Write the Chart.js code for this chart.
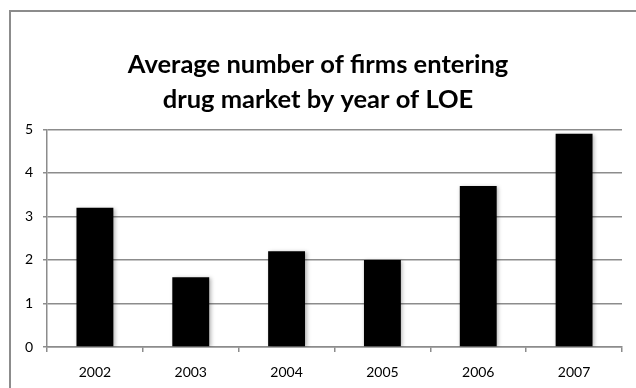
<!DOCTYPE html>
<html>
<head>
<meta charset="utf-8">
<script src="https://cdn.jsdelivr.net/npm/chart.js@4.4.1/dist/chart.umd.min.js"></script>
<style>
  html, body { margin: 0; padding: 0; background: #fff; overflow: hidden; }
  #wrap { position: relative; width: 636px; height: 388px; }
  #frame { position: absolute; left: 9px; top: 10px; width: 640px; height: 400px; border: 2px solid #8c8c8c; box-sizing: border-box; }
  canvas { position: absolute; left: 0; top: 0; }
</style>
</head>
<body>
<div id="wrap">
  <div id="frame"></div>
  <canvas id="chart" width="636" height="388"></canvas>
</div>
<script>
const titleLines = ['Average number of firms entering', 'drug market by year of LOE'];
const years = ['2002', '2003', '2004', '2005', '2006', '2007'];
const firms = [3.2, 1.6, 2.2, 2.0, 3.7, 4.9];
const yTicks = [0, 1, 2, 3, 4, 5];

const fontFamily = 'Lato, "Open Sans", sans-serif';
const gridGray = '#8c8c8c';

// soft shadow behind the bars, like the office chart
const barShadow = {
    id: 'barShadow',
    beforeDatasetsDraw(chart) {
        const ctx = chart.ctx;
        ctx.save();
        ctx.shadowColor = 'rgba(0,0,0,0.3)';
        ctx.shadowBlur = 4;
        ctx.shadowOffsetX = 1.5;
        ctx.shadowOffsetY = 1;
    },
    afterDatasetsDraw(chart) {
        chart.ctx.restore();
    }
};

new Chart(document.getElementById('chart'), {
    type: 'bar',
    data: {
        labels: years,
        datasets: [{
            data: firms,
            backgroundColor: '#000',
            borderWidth: 0,
            categoryPercentage: 1,
            barPercentage: 0.385
        }]
    },
    options: {
        responsive: false,
        animation: false,
        events: [],
        layout: { padding: { top: 47, right: 14, bottom: 0, left: 14 } },
        plugins: {
            legend: { display: false },
            tooltip: { enabled: false },
            title: {
                display: true,
                text: titleLines,
                color: '#000',
                font: { family: fontFamily, size: 25.5, weight: 'bold', lineHeight: 1.38 },
                padding: { top: 0, bottom: 12 }
            }
        },
        scales: {
            x: {
                grid: {
                    display: true,
                    drawOnChartArea: false,
                    drawTicks: true,
                    tickLength: 5,
                    color: gridGray,
                    lineWidth: 1.5,
                    offset: true
                },
                border: { display: true, color: gridGray, width: 1.5 },
                ticks: {
                    color: '#000',
                    padding: 12,
                    font: { family: fontFamily, size: 14 },
                    maxRotation: 0
                },
                afterFit(scale) { scale.height = 41; }
            },
            y: {
                min: 0,
                max: 5,
                afterBuildTicks(scale) { scale.ticks = yTicks.map(v => ({ value: v })); },
                grid: {
                    color: gridGray,
                    lineWidth: 1.5,
                    tickLength: 4
                },
                border: { display: true, color: gridGray, width: 1.5 },
                ticks: {
                    color: '#000',
                    padding: 10,
                    font: { family: fontFamily, size: 14 }
                },
                afterFit(scale) { scale.width = 33; }
            }
        }
    },
    plugins: [barShadow]
});
</script>
</body>
</html>
